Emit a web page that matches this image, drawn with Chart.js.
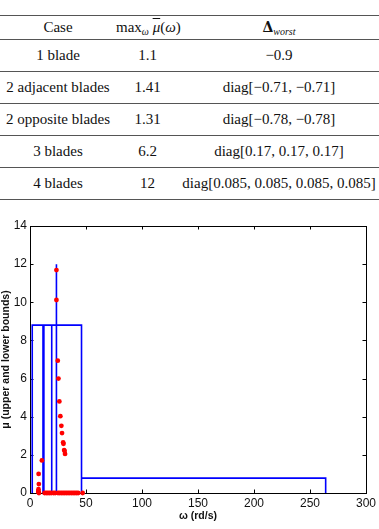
<!DOCTYPE html>
<html><head><meta charset="utf-8">
<script src="https://cdn.jsdelivr.net/npm/chart.js@4/dist/chart.umd.min.js"></script>
<style>
html,body{margin:0;padding:0;background:#fff;width:379px;height:529px;overflow:hidden}
#tbl{position:absolute;left:0;top:15px;width:379px;border-collapse:collapse;table-layout:fixed;font-family:"Liberation Serif",serif;font-size:15px;color:#111}
#tbl td,#tbl th{padding:0;text-align:center;border-bottom:1px solid #555;font-weight:normal;white-space:nowrap}
#tbl th{height:23px;border-top:1px solid #555}
#tbl td{height:31px}
#tbl sub{font-size:10px;vertical-align:-3px;line-height:0}
.ov{text-decoration:overline}
#wrap{position:absolute;left:0;top:200px;width:379px;height:329px}
</style></head><body>
<table id="tbl">
<colgroup><col style="width:116px"><col style="width:63px"><col style="width:200px"></colgroup>
<thead><tr><th>Case</th><th>max<sub><i>ω</i></sub> <i class="ov">μ</i>(<i>ω</i>)</th><th><b style="font-family:'DejaVu Serif',serif;font-size:14px">Δ</b><sub><i>worst</i></sub></th></tr></thead>
<tbody id="tb"></tbody>
</table>
<div id="wrap"><canvas id="c" width="379" height="329"></canvas></div>
<script>
// ---- table data ----
const cases = ["1 blade", "2 adjacent blades", "2 opposite blades", "3 blades", "4 blades"];
const maxMu = ["1.1", "1.41", "1.31", "6.2", "12"];
const deltaWorst = ["\u22120.9", "diag[\u22120.71, \u22120.71]", "diag[\u22120.78, \u22120.78]", "diag[0.17, 0.17, 0.17]", "diag[0.085, 0.085, 0.085, 0.085]"];

// ---- chart data ----
// upper bound (blue, piecewise; null breaks the line)
const upperOmega = [2, 2, 46, 46, 46, 264, 264, null, 11.6, 11.6, null, 12.4, 12.4, null, 19.4, 19.4, null, 23.6, 23.6];
const upperMu    = [0, 8.8, 8.8, 0, 0.78, 0.78, 0, null, 0, 8.8, null, 0, 8.8, null, 0, 8.8, null, 0, 12.0];
// lower bound (red dots)
const lowerOmega = [23.6, 23.6, 24.8, 25.4, 26.2, 27.1, 28.0, 28.6, 29.6, 29.9, 30.5, 30.9, 31.3, 10.6, 7.7, 7.9, 7.6, 7.5, 7.4,
                    8, 13, 14.5, 16, 17.5, 19, 21, 22.5, 25, 26.5, 28, 29.5, 31, 32.5, 34, 35.5, 37, 38.5, 40, 41.5, 43, 47];
const lowerMu    = [11.69, 10.12, 6.94, 6.0, 4.8, 4.03, 3.52, 3.14, 2.65, 2.58, 2.25, 2.2, 2.05, 1.71, 1.0, 0.47, 0.2, 0.1, 0.05,
                    0, 0, 0, 0, 0, 0, 0, 0, 0, 0, 0, 0, 0, 0, 0, 0, 0, 0, 0, 0, 0, 0];
const xTickValues = [0, 50, 100, 150, 200, 250, 300];
const yTickValues = [0, 2, 4, 6, 8, 10, 12, 14];

const tb = document.getElementById('tb');
cases.forEach((c, i) => {
  const tr = document.createElement('tr');
  [c, maxMu[i], deltaWorst[i]].forEach(t => { const td = document.createElement('td'); td.textContent = t; tr.appendChild(td); });
  tb.appendChild(tr);
});

const frame = {
  id: 'frame',
  beforeDatasetsDraw(chart) {
    const {ctx, chartArea: a, scales: {x, y}} = chart;
    ctx.save();
    ctx.strokeStyle = '#000';
    ctx.lineWidth = 1;
    ctx.strokeRect(Math.round(a.left) + 0.5, Math.round(a.top) + 0.5, Math.round(a.right - a.left), Math.round(a.bottom - a.top));
    const L = 3.5;
    ctx.beginPath();
    x.ticks.forEach(t => {
      const px = Math.round(x.getPixelForValue(t.value)) + 0.5;
      ctx.moveTo(px, a.bottom); ctx.lineTo(px, a.bottom - L);
      ctx.moveTo(px, a.top); ctx.lineTo(px, a.top + L);
    });
    y.ticks.forEach(t => {
      const py = Math.round(y.getPixelForValue(t.value)) + 0.5;
      ctx.moveTo(a.left, py); ctx.lineTo(a.left + L, py);
      ctx.moveTo(a.right, py); ctx.lineTo(a.right - L, py);
    });
    ctx.stroke();
    ctx.restore();
  }
};

const tickFont = {family: 'Liberation Sans', size: 12};
const titleFont = {family: 'Liberation Sans', size: 10.5, weight: 'bold'};

new Chart(document.getElementById('c'), {
  type: 'scatter',
  data: {
    datasets: [
      {
        label: 'lower bound',
        data: lowerOmega.map((w, i) => ({x: w, y: lowerMu[i]})),
        showLine: false,
        pointRadius: 2.4,
        pointBackgroundColor: '#ff0000',
        pointBorderWidth: 0,
        clip: false,
        order: 0
      },
      {
        label: 'upper bound',
        data: upperOmega.map((w, i) => ({x: w, y: upperMu[i]})),
        showLine: true,
        spanGaps: false,
        borderColor: '#0000ff',
        borderWidth: 1.6,
        pointRadius: 0,
        tension: 0,
        clip: false,
        order: 1
      }
    ]
  },
  options: {
    responsive: false,
    animation: false,
    devicePixelRatio: 1,
    layout: {padding: {top: 26, right: 10, left: 0, bottom: 0}},
    plugins: {legend: {display: false}, tooltip: {enabled: false}},
    scales: {
      x: {
        type: 'linear', min: 0, max: 300,
        afterBuildTicks: s => { s.ticks = xTickValues.map(v => ({value: v})); },
        afterFit: s => { s.height = 36; },
        grid: {display: false, drawTicks: false},
        border: {display: false},
        ticks: {padding: 3, color: '#111', font: tickFont, maxRotation: 0},
        title: {display: true, text: 'ω (rd/s)', color: '#111', font: titleFont, padding: {top: 0, bottom: 7}}
      },
      y: {
        type: 'linear', min: 0, max: 14,
        afterBuildTicks: s => { s.ticks = yTickValues.map(v => ({value: v})); },
        afterFit: s => { s.width = 30; },
        grid: {display: false, drawTicks: false},
        border: {display: false},
        ticks: {padding: 3, color: '#111', font: tickFont},
        title: {display: true, text: 'μ (upper and lower bounds)', color: '#111', font: titleFont, padding: {top: 0, bottom: 0}}
      }
    }
  },
  plugins: [frame]
});
</script>
</body></html>
